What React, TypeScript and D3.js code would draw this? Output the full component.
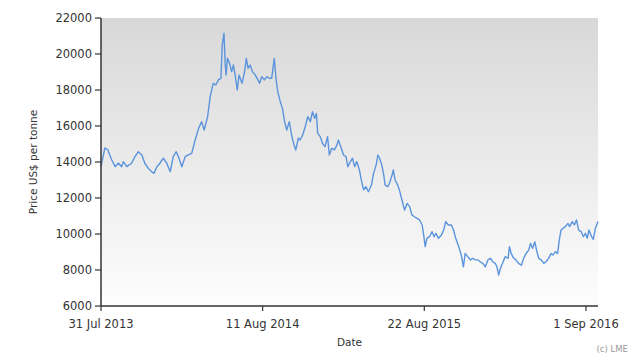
import * as React from "react";
import * as d3 from "d3";

// Price readings (US$ per tonne)
const dates: string[] = [
  "2013-07-31", "2013-08-09", "2013-08-16", "2013-08-25", "2013-09-02", "2013-09-09", "2013-09-17", "2013-09-21",
  "2013-09-29", "2013-10-10", "2013-10-18", "2013-10-26", "2013-11-03", "2013-11-10", "2013-11-18", "2013-11-26",
  "2013-12-01", "2013-12-08", "2013-12-15", "2013-12-23", "2013-12-31", "2014-01-08", "2014-01-15", "2014-01-22",
  "2014-01-27", "2014-02-04", "2014-02-12", "2014-02-19", "2014-02-27", "2014-03-07", "2014-03-15", "2014-03-22",
  "2014-03-28", "2014-04-05", "2014-04-11", "2014-04-18", "2014-04-24", "2014-04-30", "2014-05-06", "2014-05-09",
  "2014-05-13", "2014-05-16", "2014-05-18", "2014-05-21", "2014-05-26", "2014-05-31", "2014-06-04", "2014-06-08",
  "2014-06-13", "2014-06-17", "2014-06-24", "2014-06-30", "2014-07-04", "2014-07-08", "2014-07-13", "2014-07-18",
  "2014-07-25", "2014-07-31", "2014-08-04", "2014-08-09", "2014-08-15", "2014-08-21", "2014-08-26", "2014-09-01",
  "2014-09-07", "2014-09-11", "2014-09-15", "2014-09-21", "2014-09-26", "2014-10-01", "2014-10-06", "2014-10-12",
  "2014-10-18", "2014-10-23", "2014-10-27", "2014-11-02", "2014-11-06", "2014-11-12", "2014-11-18", "2014-11-24",
  "2014-11-30", "2014-12-05", "2014-12-10", "2014-12-14", "2014-12-17", "2014-12-23", "2014-12-28", "2015-01-03",
  "2015-01-09", "2015-01-13", "2015-01-19", "2015-01-25", "2015-01-31", "2015-02-03", "2015-02-10", "2015-02-15",
  "2015-02-21", "2015-02-25", "2015-03-03", "2015-03-08", "2015-03-13", "2015-03-18", "2015-03-24", "2015-03-30",
  "2015-04-03", "2015-04-08", "2015-04-14", "2015-04-21", "2015-04-26", "2015-05-02", "2015-05-06", "2015-05-10",
  "2015-05-15", "2015-05-19", "2015-05-23", "2015-05-29", "2015-06-02", "2015-06-08", "2015-06-11", "2015-06-15",
  "2015-06-21", "2015-06-25", "2015-07-01", "2015-07-07", "2015-07-13", "2015-07-19", "2015-07-24", "2015-07-30",
  "2015-08-05", "2015-08-11", "2015-08-17", "2015-08-20", "2015-08-24", "2015-08-28", "2015-09-03", "2015-09-09",
  "2015-09-14", "2015-09-18", "2015-09-24", "2015-10-01", "2015-10-06", "2015-10-11", "2015-10-17", "2015-10-24",
  "2015-10-29", "2015-11-03", "2015-11-10", "2015-11-16", "2015-11-21", "2015-11-25", "2015-12-01", "2015-12-07",
  "2015-12-12", "2015-12-19", "2015-12-25", "2015-12-30", "2016-01-05", "2016-01-11", "2016-01-17", "2016-01-23",
  "2016-01-28", "2016-02-03", "2016-02-07", "2016-02-11", "2016-02-15", "2016-02-20", "2016-02-26", "2016-03-04",
  "2016-03-07", "2016-03-11", "2016-03-17", "2016-03-22", "2016-03-28", "2016-04-04", "2016-04-09", "2016-04-15",
  "2016-04-21", "2016-04-25", "2016-04-30", "2016-05-05", "2016-05-09", "2016-05-14", "2016-05-20", "2016-05-26",
  "2016-05-31", "2016-06-06", "2016-06-12", "2016-06-16", "2016-06-22", "2016-06-27", "2016-07-01", "2016-07-05",
  "2016-07-10", "2016-07-15", "2016-07-21", "2016-07-25", "2016-07-31", "2016-08-05", "2016-08-10", "2016-08-15",
  "2016-08-21", "2016-08-26", "2016-08-31", "2016-09-04", "2016-09-08", "2016-09-14", "2016-09-18", "2016-09-23",
  "2016-09-29",
];

const prices: number[] = [
  13740, 14780, 14670, 14110, 13740, 13940, 13740, 14020,
  13740, 13930, 14300, 14570, 14390, 13930, 13650, 13460,
  13370, 13740, 13930, 14210, 13930, 13460, 14300, 14570,
  14300, 13740, 14300, 14390, 14480, 15220, 15870, 16240,
  15780, 16520, 17630, 18370, 18280, 18560, 18650, 20500,
  21150, 19390, 18830, 19760, 19480, 19020, 19390, 18830,
  18000, 18830, 18370, 19020, 19760, 19200, 19390, 19020,
  18830, 18560, 18370, 18740, 18560, 18740, 18650, 18650,
  19760, 18650, 17910, 17350, 16980, 16240, 15780, 16240,
  15410, 14950, 14670, 15320, 15220, 15500, 15960, 16520,
  16240, 16800, 16430, 16700, 15590, 15410, 15040, 14850,
  15410, 14390, 14760, 14670, 14950, 15220, 14760, 14390,
  14300, 13740, 14020, 14210, 13740, 14020, 13560, 12820,
  12450, 12630, 12350, 12720, 13370, 13840, 14390, 14210,
  13840, 13370, 12720, 12630, 12820, 13280, 13560, 13000,
  12720, 12450, 11890, 11330, 11700, 11520, 11060, 10960,
  10870, 10780, 10500, 10040, 9300, 9760, 9850, 10130,
  9850, 10040, 9760, 9940, 10220, 10690, 10500, 10500,
  10220, 9760, 9300, 8830, 8180, 8920, 8740, 8560,
  8650, 8560, 8560, 8460, 8370, 8180, 8560, 8650,
  8460, 8370, 8180, 7720, 8090, 8370, 8740, 8650,
  9300, 8920, 8650, 8560, 8370, 8270, 8650, 8920,
  9110, 9480, 9200, 9570, 9110, 8650, 8560, 8370,
  8460, 8650, 8920, 8830, 9020, 8920, 9670, 10220,
  10320, 10410, 10590, 10410, 10690, 10500, 10780, 10220,
  10130, 9850, 10040, 9760, 10220, 9850, 9700, 10320,
  10690,
];

const xTickDates: string[] = ["2013-07-31", "2014-08-11", "2015-08-22", "2016-09-01"];
const yTicks: number[] = [6000, 8000, 10000, 12000, 14000, 16000, 18000, 20000, 22000];

const parse = d3.timeParse("%Y-%m-%d");
const fmt = d3.timeFormat("%-d %b %Y");

export default function App() {
  const width = 640;
  const height = 362;
  const margin = { top: 18, right: 42, bottom: 56, left: 101 };
  const innerW = width - margin.left - margin.right;
  const innerH = height - margin.top - margin.bottom;

  const series = dates.map((d, i) => ({ date: parse(d) as Date, price: prices[i] }));

  const x = d3
    .scaleTime()
    .domain([parse(dates[0]) as Date, parse(dates[dates.length - 1]) as Date])
    .range([0, innerW]);
  const y = d3.scaleLinear().domain([6000, 22000]).range([innerH, 0]);

  const line = d3
    .line<{ date: Date; price: number }>()
    .x((d) => x(d.date))
    .y((d) => y(d.price));

  const font = '"DejaVu Sans", Verdana, sans-serif';

  return (
    <svg width={width} height={height} style={{ position: "absolute", left: 0, top: 0, background: "#fff" }}>
      <defs>
        <linearGradient id="bg" x1="0" y1="0" x2="0" y2="1">
          <stop offset="0" stopColor="#d8d8d8" />
          <stop offset="1" stopColor="#fdfdfd" />
        </linearGradient>
      </defs>
      <g transform={`translate(${margin.left},${margin.top})`}>
        <rect width={innerW} height={innerH} fill="url(#bg)" />
        <path d={line(series) ?? ""} fill="none" stroke="#5b94dc" strokeWidth={1.4} strokeLinejoin="round" />

        {/* Y axis */}
        <line x1={0} x2={0} y1={0} y2={innerH} stroke="#333" strokeWidth={1.5} />
        {yTicks.map((t) => (
          <g key={t} transform={`translate(0,${y(t)})`}>
            <line x1={-6} x2={0} stroke="#333" strokeWidth={1.2} />
            <text x={-9} dy="0.36em" textAnchor="end" fontFamily={font} fontSize={11.5} fill="#333">
              {t}
            </text>
          </g>
        ))}

        {/* X axis */}
        <line x1={0} x2={innerW} y1={innerH} y2={innerH} stroke="#333" strokeWidth={1.5} />
        {xTickDates.map((t) => {
          const d = parse(t) as Date;
          return (
            <g key={t} transform={`translate(${x(d)},${innerH})`}>
              <line y1={0} y2={5} stroke="#333" strokeWidth={1.2} />
              <text y={22} textAnchor="middle" fontFamily={font} fontSize={11.5} fill="#333">
                {fmt(d)}
              </text>
            </g>
          );
        })}

        <text
          transform={`translate(${-64},${innerH / 2}) rotate(-90)`}
          textAnchor="middle"
          fontFamily={font}
          fontSize={10.5}
          fill="#333"
        >
          Price US$ per tonne
        </text>
        <text x={innerW / 2} y={innerH + 40} textAnchor="middle" fontFamily={font} fontSize={10.5} fill="#333">
          Date
        </text>
      </g>
      <text x={628} y={352} textAnchor="end" fontFamily={font} fontSize={8.5} fill="#999">
        (c) LME
      </text>
    </svg>
  );
}
